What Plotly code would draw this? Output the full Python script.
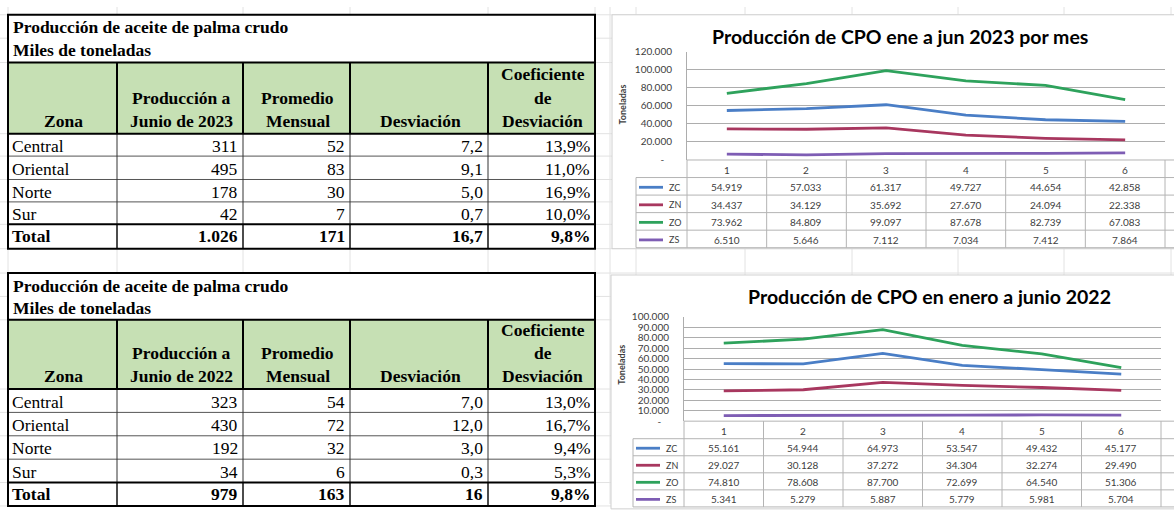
import plotly.graph_objects as go

W, H = 1174, 510

# ---------------- DATA ----------------
zonas = ["Central", "Oriental", "Norte", "Sur"]
total_label = "Total"

prod_2023 = [311, 495, 178, 42]
prom_2023 = [52, 83, 30, 7]
desv_2023 = [7.2, 9.1, 5.0, 0.7]
coef_2023 = [13.9, 11.0, 16.9, 10.0]
total_2023 = [1026, 171, 16.7, 9.8]
total_dec_2023 = [0, 0, 1, 1]

prod_2022 = [323, 430, 192, 34]
prom_2022 = [54, 72, 32, 6]
desv_2022 = [7.0, 12.0, 3.0, 0.3]
coef_2022 = [13.0, 16.7, 9.4, 5.3]
total_2022 = [979, 163, 16, 9.8]
total_dec_2022 = [0, 0, 0, 1]

meses = [1, 2, 3, 4, 5, 6]
series_names = ["ZC", "ZN", "ZO", "ZS"]
zc_2023 = [54919, 57033, 61317, 49727, 44654, 42858]
zn_2023 = [34437, 34129, 35692, 27670, 24094, 22338]
zo_2023 = [73962, 84809, 99097, 87678, 82739, 67083]
zs_2023 = [6510, 5646, 7112, 7034, 7412, 7864]
zc_2022 = [55161, 54944, 64973, 53547, 49432, 45177]
zn_2022 = [29027, 30128, 37272, 34304, 32274, 29490]
zo_2022 = [74810, 78608, 87700, 72699, 64540, 51306]
zs_2022 = [5341, 5279, 5887, 5779, 5981, 5704]

title_2023 = "Producción de CPO ene a jun 2023 por mes"
title_2022 = "Producción de CPO en enero a junio 2022"
table_title = "Producción de aceite de palma crudo"
table_sub = "Miles de toneladas"
headers_2023 = [["Zona"], ["Producción a", "Junio de 2023"], ["Promedio", "Mensual"],
                ["Desviación"], ["Coeficiente", "de", "Desviación"]]
headers_2022 = [["Zona"], ["Producción a", "Junio de 2022"], ["Promedio", "Mensual"],
                ["Desviación"], ["Coeficiente", "de", "Desviación"]]

colors = ["#4A7EC6", "#A8375F", "#2EA25C", "#7E5DB4"]

# ---------------- HELPERS ----------------
shapes, annotations = [], []


def X(px):
    return px / W


def Y(py):
    return 1 - py / H


def line(x0, y0, x1, y1, color, width, layer="above"):
    shapes.append(dict(type="line", xref="paper", yref="paper", x0=X(x0), y0=Y(y0),
                       x1=X(x1), y1=Y(y1), line=dict(color=color, width=width), layer=layer))


def rect(x0, y0, x1, y1, fill=None, color=None, width=0, layer="below"):
    d = dict(type="rect", xref="paper", yref="paper", x0=X(x0), y0=Y(y0), x1=X(x1), y1=Y(y1),
             layer=layer, line=dict(width=width, color=color or "rgba(0,0,0,0)"))
    if fill:
        d["fillcolor"] = fill
    shapes.append(d)


def text(x, y, s, size, color="#000000", family="Liberation Serif", bold=False,
         xanchor="center", angle=0):
    annotations.append(dict(xref="paper", yref="paper", x=X(x), y=Y(y),
                            text=f"<b>{s}</b>" if bold else s, showarrow=False,
                            xanchor=xanchor, yanchor="middle", textangle=angle,
                            borderpad=0,
                            font=dict(family=family, size=size, color=color)))


def fmt(v, dec=0):
    s = f"{v:,.{dec}f}"
    return s.replace(",", "X").replace(".", ",").replace("X", ".")


# ---------------- EXCEL BACKGROUND GRID ----------------
grid_c = "#E2E2E2"
bg_rows = [8, 32, 57, 130, 153, 177, 200, 223, 248, 273, 297, 321, 392, 416, 440, 464, 488, 512]
bg_cols = [8, 117, 243, 350, 488, 595, 610, 636, 745, 852, 958, 1064, 1171]
for yy in bg_rows:
    line(0, yy, W, yy, grid_c, 1, layer="below")
for xx in bg_cols:
    line(xx, 0, xx, H, grid_c, 1, layer="below")

# ---------------- LEFT TABLES ----------------
col_x = [8, 117, 243, 350, 488, 595]
tab_font = 17.5
pct_dec = 1


def draw_table(rows_y, headers, prod, prom, desv, coef, totals, tot_dec):
    top, bot = rows_y[0], rows_y[-1]
    rect(col_x[0], top, col_x[-1], bot, fill="#FFFFFF")
    rect(col_x[0], rows_y[2], col_x[-1], rows_y[3], fill="#C6E0B4")
    text(12, (rows_y[0] + rows_y[1]) / 2 + 1, table_title, tab_font, bold=True, xanchor="left")
    text(12, (rows_y[1] + rows_y[2]) / 2, table_sub, tab_font, bold=True, xanchor="left")
    hb = rows_y[3]
    for j, lines in enumerate(headers):
        cx = (col_x[j] + col_x[j + 1]) / 2 + 1
        n = len(lines)
        for k, t in enumerate(lines):
            yy = hb - 13 - 24 * (n - 1 - k)
            text(cx, yy, t, tab_font, bold=True)
    cols_vals = [prod, prom, desv, coef]
    decs = [0, 0, 1, pct_dec]
    for i, z in enumerate(zonas):
        yc = (rows_y[3 + i] + rows_y[4 + i]) / 2 + 1
        text(11, yc, z, tab_font, xanchor="left")
        for j in range(4):
            s = fmt(cols_vals[j][i], decs[j]) + ("%" if j == 3 else "")
            text(col_x[j + 2] - 4, yc, s, tab_font, xanchor="right")
    yt = (rows_y[7] + rows_y[8]) / 2
    text(11, yt, total_label, tab_font, bold=True, xanchor="left")
    for j in range(4):
        s = fmt(totals[j], tot_dec[j]) + ("%" if j == 3 else "")
        text(col_x[j + 2] - 4, yt, s, tab_font, bold=True, xanchor="right")
    for r in range(4, 7):
        line(col_x[0], rows_y[r], col_x[-1], rows_y[r], "#555555", 1)
    for c in col_x[1:-1]:
        line(c, rows_y[3], c, rows_y[7], "#333333", 1)
        line(c, rows_y[7], c, bot, "#111111", 1.5)
        line(c, rows_y[2], c, rows_y[3], "#000000", 2)
    for r in (2, 3, 7):
        line(col_x[0], rows_y[r], col_x[-1], rows_y[r], "#000000", 2)
    rect(col_x[0], top, col_x[-1], bot, color="#000000", width=2, layer="above")


draw_table([8, 32, 57, 130, 153, 177, 200, 223, 248], headers_2023,
           prod_2023, prom_2023, desv_2023, coef_2023, total_2023, total_dec_2023)
draw_table([273, 297, 321, 392, 416, 440, 464, 488, 512], headers_2022,
           prod_2022, prom_2022, desv_2022, coef_2022, total_2022, total_dec_2022)

# ---------------- CHARTS ----------------
fig = go.Figure()

charts = [
    dict(box=(612, 8, 1180, 248), title=title_2023, title_xy=(900, 30),
         px=(687, 1165), py=(46, 157), ymax=120000, dtick=20000,
         leg_x=636, rows=[157, 175, 193, 211, 229, 247],
         data=[zc_2023, zn_2023, zo_2023, zs_2023], ytitle_y=100, ax=""),
    dict(box=(611, 275, 1180, 515), title=title_2022, title_xy=(929, 297),
         px=(684, 1161), py=(318, 425), ymax=100000, dtick=10000,
         leg_x=633, rows=[425, 443, 460.5, 478, 495.5, 513],
         data=[zc_2022, zn_2022, zo_2022, zs_2022], ytitle_y=367, ax="2"),
]

tbl_c = "#B4B4B4"
txt_c = "#404040"
for ch in charts:
    bx0, by0, bx1, by1 = ch["box"]
    rect(bx0, by0, bx1, by1, fill="#FFFFFF", color="#D0D0D0", width=1)
    text(ch["title_xy"][0], ch["title_xy"][1], ch["title"], 19.5, color="#000000",
         family="Lato", bold=True)
    text(622, ch["ytitle_y"], "Toneladas", 9, color=txt_c, family="Lato", bold=True, angle=-90)

    x0p, x1p = ch["px"]
    y0p, y1p = ch["py"]
    ax = ch["ax"]
    xa, ya = "xaxis" + ax, "yaxis" + ax
    tickvals = list(range(0, ch["ymax"] + 1, ch["dtick"]))
    ticktext = [fmt(v) if v else "-\u00a0\u00a0\u00a0" for v in tickvals]
    fig.update_layout({
        xa: dict(domain=[X(x0p), X(x1p)], range=[0.5, 6.5], showgrid=False, zeroline=False,
                 showticklabels=False, showline=False, anchor="y" + ax, fixedrange=True),
        ya: dict(domain=[Y(y1p), Y(y0p)], range=[0, ch["ymax"]], tickvals=tickvals,
                 ticktext=ticktext, showgrid=True, gridcolor="#ADADAD", gridwidth=1,
                 zeroline=False, showline=True, linecolor="#ADADAD", linewidth=1,
                 ticks="", ticklabelstandoff=12, anchor="x" + ax, fixedrange=True,
                 tickfont=dict(family="Lato", size=10, color=txt_c)),
    })
    for name, vals, col in zip(series_names, ch["data"], colors):
        fig.add_trace(go.Scatter(x=meses, y=vals, mode="lines", name=name, showlegend=False,
                                 hoverinfo="skip",
                                 line=dict(color=col, width=2.8), xaxis="x" + ax, yaxis="y" + ax))

    rows = ch["rows"]
    cw = (x1p - x0p) / len(meses)
    col_edges = [x0p + cw * k for k in range(len(meses) + 1)]
    line(x0p, rows[0], x1p + 20, rows[0], tbl_c, 1)
    for k, m in enumerate(meses):
        text(col_edges[k] + cw / 2, (rows[0] + rows[1]) / 2 + 1, str(m), 10, color=txt_c, family="Lato")
    for r in rows[1:]:
        line(ch["leg_x"], r, x1p + 20, r, tbl_c, 1)
    for e in col_edges:
        line(e, rows[0], e, rows[-1], tbl_c, 1)
    line(ch["leg_x"], rows[1], ch["leg_x"], rows[-1], tbl_c, 1)
    for i, (name, vals, col) in enumerate(zip(series_names, ch["data"], colors)):
        yc = (rows[1 + i] + rows[2 + i]) / 2 + 1
        line(ch["leg_x"] + 3, yc, ch["leg_x"] + 27, yc, col, 2.8)
        text(ch["leg_x"] + 32, yc, name, 9, color=txt_c, family="Lato", xanchor="left")
        for k, v in enumerate(vals):
            text(col_edges[k] + cw / 2, yc, fmt(v), 10, color=txt_c, family="Lato")

fig.update_layout(width=W, height=H, margin=dict(l=0, r=0, t=0, b=0),
                  paper_bgcolor="#FFFFFF", plot_bgcolor="#FFFFFF",
                  shapes=shapes, annotations=annotations, showlegend=False)
fig.write_html("out.html", config={"displayModeBar": False},
               post_script="document.body.style.margin='0';document.body.style.overflow='hidden';")
